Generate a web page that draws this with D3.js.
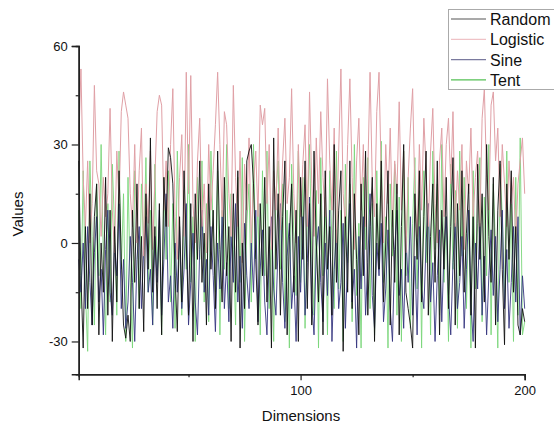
<!DOCTYPE html>
<html><head><meta charset="utf-8">
<script src="https://cdn.jsdelivr.net/npm/d3@7"></script>
<style>body{margin:0;background:#fff}svg{display:block}</style>
</head><body>
<svg id="c" width="554" height="428"></svg>
<script>
const seriesNames = ["Random","Logistic","Sine","Tent"];
const seriesColors = ["#111111","#e0a0a6","#35357f","#7ad67a"];
const xTicks = [100,200];
const xMinor = [50,150];
const yTicks = [-30,0,30,60];
const yMinor = [-15,15,45];

const random = [25,-10,-32,5,-20,15,-25,8,18,-28,0,-15,20,-22,10,-30,5,-18,22,-5,-25,-29,-22,-30,10,-12,18,-20,2,-27,15,-8,32,-15,5,-20,12,-28,20,5,29,26,18,-10,-27,8,-18,22,0,-22,12,-30,15,-5,25,-12,3,-25,18,-8,10,-20,28,-2,-18,20,-10,5,-30,15,-15,22,-32,0,-20,25,28,30,18,-5,-25,12,-10,20,-18,5,-32,32,-8,15,-22,8,25,-28,2,18,-15,10,-30,20,-5,25,-20,12,-25,28,0,-18,15,-28,22,-8,5,-22,30,-12,10,22,-33,8,-15,25,-20,15,-5,-28,18,-10,28,-22,5,20,-30,12,-8,25,-18,0,22,-25,10,-12,18,-28,5,30,-15,-20,-25,-32,15,-5,22,-18,8,28,-22,2,18,-12,25,-28,10,-8,20,-20,5,26,-25,12,-10,22,-15,3,18,-22,8,-32,24,-5,15,-18,30,2,-12,20,-25,10,25,-8,-31,18,-5,22,-15,5,-25,-28,-20,-24];
const logistic = [30,53,20,5,25,0,12,48,22,18,2,20,8,15,41,10,-3,28,12,40,46,42,38,15,5,30,0,22,35,-4,18,6,28,-2,20,40,45,42,10,25,5,30,47,8,-5,20,33,2,52,15,51,12,0,25,38,5,18,-3,30,10,22,36,52,30,8,40,36,15,2,48,20,5,28,-6,24,10,32,0,18,28,8,42,36,41,12,30,-2,22,10,35,4,25,38,12,20,47,15,0,30,8,24,36,5,46,18,2,32,12,40,20,8,50,25,10,35,0,28,53,15,5,30,50,20,-2,25,38,10,30,5,22,52,18,8,40,52,20,0,30,12,35,5,25,15,43,10,28,-3,20,35,47,15,2,30,10,38,22,5,28,41,12,0,25,35,8,30,38,18,40,5,22,10,30,-2,25,15,35,8,20,28,5,38,47,20,10,42,46,25,35,8,30,18,5,25,12,20,0,18,25,32,15];
const sine = [-5,-15,0,-20,5,-12,-25,-3,8,-18,-8,-28,-2,10,-15,-22,0,-10,12,-20,-5,-26,-18,2,-12,-30,-5,5,-20,-2,8,-15,-8,-25,2,-12,10,-22,-5,15,-18,-10,-26,0,-15,5,-20,-8,12,-25,-12,3,-18,-28,-2,10,-15,-5,-22,5,-10,-27,0,-14,8,-20,-6,-24,2,-12,12,-18,-4,-26,6,-10,-20,0,-15,10,-24,-8,4,-18,-28,-2,8,-14,-22,0,12,-12,-26,-4,6,-20,-10,-30,2,-15,8,-22,-6,14,-18,-28,-2,5,-12,-24,0,-16,10,-30,-8,4,-20,-12,6,-26,-4,12,-18,-8,-32,2,-14,8,-22,-6,15,-16,-26,0,-10,6,-24,-14,4,-20,-30,-2,10,-16,-8,-26,2,-12,8,-22,-4,-28,5,-14,-20,0,12,-18,-6,-30,-10,4,-24,-2,8,-16,-28,-6,6,-20,-12,2,-26,-8,10,-18,-30,0,-14,6,-22,-4,-28,-10,4,-16,2,-24,-8,10,-20,-2,-26,-12,5,-18,8,-28,-10,-20];
const tent = [10,-20,22,-15,-33,25,2,-25,18,-10,30,-5,-28,12,-18,24,5,-22,28,-8,15,-30,20,-12,-32,22,8,-20,18,-2,26,-15,10,-25,24,-10,5,-28,20,-5,22,-18,12,-26,28,0,-22,16,-8,30,-12,8,-30,20,-5,25,-18,12,-24,28,4,-15,22,-28,10,-8,30,-20,15,-2,-25,20,-12,26,-30,6,18,-18,30,-5,12,-28,22,-10,28,-20,5,-30,15,25,-8,18,-24,10,-32,24,2,-16,28,-12,20,-26,8,30,-4,-22,16,-32,26,-10,14,-28,22,0,-20,28,-14,10,-30,24,-6,18,-24,30,-16,6,-32,20,-2,26,-20,12,-28,22,-8,31,-12,8,-32,18,-4,24,-22,14,-30,28,-10,20,-26,6,26,-14,16,-32,22,-6,12,-28,28,-2,18,-22,30,-12,8,-30,24,-8,16,-26,28,-4,20,-20,10,-32,22,-14,6,26,-24,14,-10,30,-28,18,-2,-32,24,8,-18,28,-12,12,-30,20,-22,32,-28,-24];
const seriesValues = [random, logistic, sine, tent];
const drawOrder = [3,2,1,0];
const seriesWidths = [0.9,1,0.9,0.9];

const svg = d3.select("#c");
const x = d3.scaleLinear().domain([1,200]).range([78.7,524.7]);
const y = d3.scaleLinear().domain([-40,60]).range([374.3,46]);

const plot = svg.append("g");
const line = d3.line().x((d,i)=>x(i+1)).y(d=>y(d));
drawOrder.forEach(k=>{
  plot.append("path").datum(seriesValues[k]).attr("d",line)
    .attr("fill","none").attr("stroke",seriesColors[k])
    .attr("stroke-width",seriesWidths[k]).attr("stroke-linejoin","round");
});

const font = "Arial, 'Liberation Sans', sans-serif";
const fmt = d => String(d);
const xAxis = svg.append("g").attr("transform","translate(0,374.3)")
  .call(d3.axisBottom(x).tickValues(xTicks).tickSize(6).tickPadding(5).tickFormat(fmt));
const xAxisMinor = svg.append("g").attr("transform","translate(0,374.3)")
  .call(d3.axisBottom(x).tickValues(xMinor).tickSize(3).tickFormat(""));
const yAxis = svg.append("g").attr("transform","translate(78.7,0)")
  .call(d3.axisLeft(y).tickValues(yTicks).tickSize(7).tickPadding(4).tickFormat(fmt));
const yAxisMinor = svg.append("g").attr("transform","translate(78.7,0)")
  .call(d3.axisLeft(y).tickValues(yMinor).tickSize(3).tickFormat(""));
[xAxis,xAxisMinor,yAxis,yAxisMinor].forEach(g=>{
  g.select(".domain").attr("stroke","#222").attr("stroke-width",1.5);
  g.selectAll(".tick line").attr("stroke","#222").attr("stroke-width",1.2);
  g.selectAll("text").attr("font-family",font).attr("font-size",13).attr("fill","#111");
});

svg.append("text").attr("x",301).attr("y",421).attr("text-anchor","middle")
  .attr("font-family",font).attr("font-size",15).attr("fill","#111").text("Dimensions");
svg.append("text").attr("transform","translate(23,214) rotate(-90)").attr("text-anchor","middle")
  .attr("font-family",font).attr("font-size",15).attr("fill","#111").text("Values");

const lg = svg.append("g");
lg.append("rect").attr("x",448.5).attr("y",9.5).attr("width",106).attr("height",80)
  .attr("fill","#fff").attr("stroke","#aaa").attr("stroke-width",1);
const legendLineColors = ["#555555","#efc2c6","#7a7a9e","#55c055"];
seriesNames.forEach((n,k)=>{
  const yy = 19 + k*20.3;
  lg.append("line").attr("x1",451).attr("x2",486).attr("y1",yy).attr("y2",yy)
    .attr("stroke",legendLineColors[k]).attr("stroke-width",1.2);
  lg.append("text").attr("x",490).attr("y",yy+6).attr("font-family",font)
    .attr("font-size",16).attr("fill","#111").text(n);
});
</script>
</body></html>
